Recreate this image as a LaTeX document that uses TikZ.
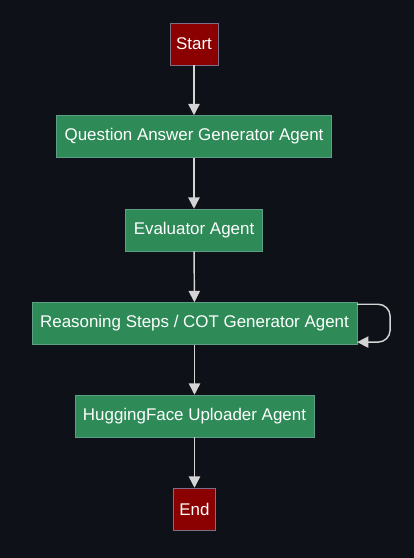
\documentclass[tikz,border=0pt]{standalone}
\usepackage{fontspec}
\setmainfont{Liberation Sans}
\usetikzlibrary{arrows.meta}
\definecolor{bg}{HTML}{0E1117}
\definecolor{agentfill}{HTML}{2E8B57}
\definecolor{agentline}{HTML}{5E9E86}
\definecolor{termfill}{HTML}{8B0000}
\definecolor{termline}{HTML}{7C7088}
\definecolor{wire}{HTML}{D4D4D4}

\begin{document}
\begin{tikzpicture}[x=0.75pt,y=-0.75pt,
  agent/.style={draw=agentline,fill=agentfill,text=white,minimum height=31.5pt,inner xsep=6pt,font=\fontsize{12.7}{14}\selectfont},
  term/.style={draw=termline,fill=termfill,text=white,minimum height=31.5pt,inner xsep=4.5pt,font=\fontsize{12.7}{14}\selectfont},
  wirearrow/.style={draw=wire,line width=1.1pt,-{Triangle[width=8.5pt,length=8.5pt]}}]
\fill[bg] (0,0) rectangle (414,558);
\node[term] (start) at (194,44) {Start};
\node[agent] (qag) at (194,136.5) {Question Answer Generator Agent};
\node[agent] (eval) at (194,230) {Evaluator Agent};
\node[agent] (cot) at (194.5,323.5) {Reasoning Steps / COT Generator Agent};
\node[agent] (hf) at (194.5,416) {HuggingFace Uploader Agent};
\node[term] (finish) at (194.5,509) {End};
\draw[wirearrow] (start) -- (qag);
\draw[wirearrow] (qag) -- (eval);
\draw[wirearrow] (eval) -- (cot);
\draw[wirearrow] (cot) -- (hf);
\draw[wirearrow] (hf) -- (finish);
\draw[wirearrow,rounded corners=9pt] ([yshift=-1.5pt]cot.north east) -- ++(33,0) |- ([yshift=2pt]cot.south east);
\end{tikzpicture}
\end{document}
